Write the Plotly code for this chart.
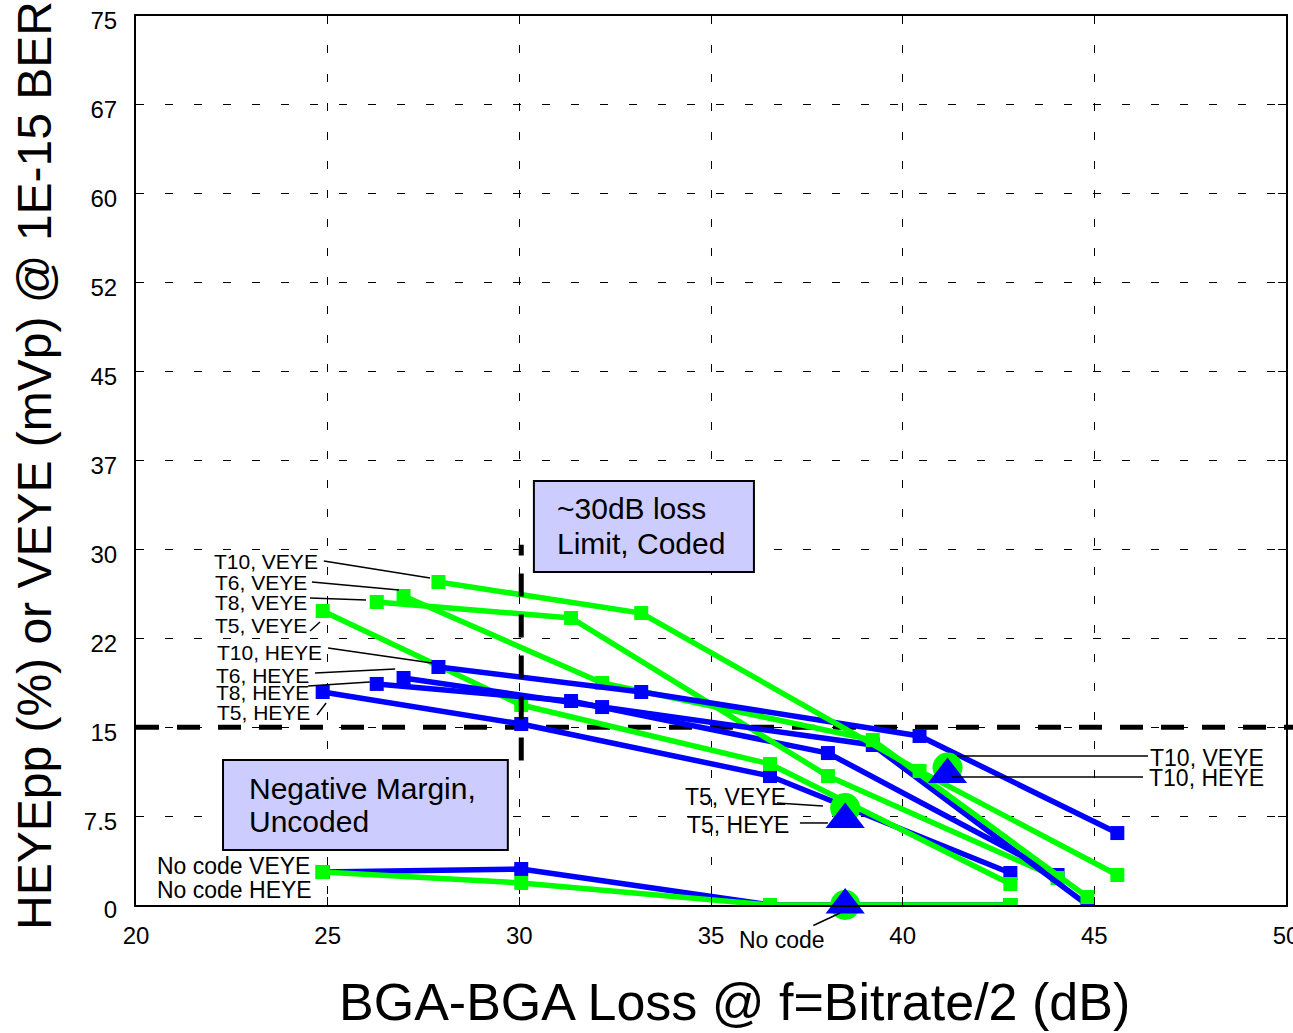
import plotly.graph_objects as go

# ---- measured eye openings vs. BGA-to-BGA channel loss ----
# channel loss (dB) at f = Bitrate/2 for each transmitter setting
loss_t5 = [24.87, 30.05, 36.54, 42.81]
loss_t8 = [26.28, 31.35, 38.05, 44.04]
loss_t6 = [26.98, 32.16, 39.22, 44.82]
loss_t10 = [27.89, 33.18, 40.44, 45.60]
loss_nocode = [24.87, 30.05, 36.54, 42.81]

# vertical eye (mVp) and horizontal eye (% UI pp) at 1E-15 BER
veye_t5 = [24.80, 16.87, 11.90, 1.77]
heye_t5 = [17.97, 15.27, 10.88, 2.70]
veye_t8 = [25.56, 24.21, 10.88, 2.28]
heye_t8 = [18.65, 17.21, 12.82, 2.53]
veye_t6 = [26.07, 18.73, 13.92, 0.67]
heye_t6 = [19.15, 16.70, 13.50, 0.00]
veye_t10 = [27.25, 24.63, 11.31, 2.53]
heye_t10 = [20.08, 17.97, 14.26, 6.07]
veye_nocode = [2.78, 1.86, 0.00, 0.00]
heye_nocode = [2.78, 3.04, 0.00, 0.00]

# loss-limit operating points (T5, T10, uncoded)
limit_loss = [38.50, 41.17, 38.50]
limit_veye = [8.18, 11.60, 0.00]
limit_heye = [7.21, 11.01, 0.00]

# coded 30 dB loss limit and 15 unit eye requirement
loss_limit_db = 30.05
loss_limit_span = [12.2, 30.4]
eye_requirement = 15.0

x_ticks = [20, 25, 30, 35, 40, 45, 50]
y_tickvals = [0, 7.5, 15, 22.5, 30, 37.5, 45, 52.5, 60, 67.5, 75]
y_ticktext = ["0", "7.5", "15", "22", "30", "37", "45", "52", "60", "67", "75"]

GREEN = "#00FF00"
BLUE = "#0000FF"
FONT = "Liberation Sans, Arial, Helvetica, sans-serif"

fig = go.Figure()


def add_series(x, y, color):
    fig.add_trace(go.Scatter(
        x=x, y=y, mode="lines+markers",
        line=dict(color=color, width=5.5),
        marker=dict(symbol="square", size=14, color=color),
        hoverinfo="x+y",
    ))


series = [
    (loss_t5, heye_t5, veye_t5),
    (loss_t8, heye_t8, veye_t8),
    (loss_t6, heye_t6, veye_t6),
    (loss_t10, heye_t10, veye_t10),
]
for loss, heye, veye in series:
    add_series(loss, heye, BLUE)
    add_series(loss, veye, GREEN)

add_series(loss_nocode, heye_nocode, BLUE)
add_series(loss_nocode, veye_nocode, GREEN)

# operating points at the loss limit: VEYE circle behind HEYE triangle
fig.add_trace(go.Scatter(
    x=limit_loss, y=limit_veye, mode="markers",
    marker=dict(symbol="circle", size=30, color=GREEN),
    cliponaxis=False, hoverinfo="x+y",
))
fig.add_trace(go.Scatter(
    x=limit_loss, y=limit_heye, mode="markers",
    marker=dict(symbol="triangle-up", size=34, color=BLUE),
    cliponaxis=False, hoverinfo="x+y",
))

shapes = []
# eye requirement (horizontal, runs past the frame) and coded loss limit
shapes.append(dict(type="line", xref="paper", yref="y", x0=0, x1=1.007,
                   y0=eye_requirement, y1=eye_requirement, layer="below",
                   line=dict(color="black", width=5, dash="23px,18px")))
shapes.append(dict(type="line", xref="x", yref="y",
                   x0=loss_limit_db, x1=loss_limit_db,
                   y0=loss_limit_span[0], y1=loss_limit_span[1], layer="above",
                   line=dict(color="black", width=5, dash="23px,18px")))

# callout boxes
shapes.append(dict(type="rect", xref="x", yref="y", x0=30.38, x1=36.12,
                   y0=28.09, y1=35.77, layer="above", fillcolor="#CCCCFF",
                   line=dict(color="black", width=2)))
shapes.append(dict(type="rect", xref="x", yref="y", x0=22.27, x1=29.70,
                   y0=4.64, y1=12.23, layer="above", fillcolor="#CCCCFF",
                   line=dict(color="black", width=2)))

# leader lines from curve labels to their curves
leaders = [
    (24.90, 29.02, 27.67, 27.59),
    (24.59, 27.25, 26.86, 26.58),
    (24.54, 25.90, 26.00, 25.73),
    (24.54, 23.12, 24.80, 23.88),
    (25.01, 21.68, 27.72, 20.42),
    (24.67, 19.57, 26.76, 19.91),
    (24.49, 18.48, 26.10, 18.81),
    (24.72, 16.03, 24.96, 17.04),
    (41.42, 12.57, 46.40, 12.57),
    (41.29, 10.80, 46.27, 10.80),
    (36.72, 8.61, 37.92, 8.35),
    (37.32, 6.92, 38.05, 6.92),
]
for x0, y0, x1, y1 in leaders:
    shapes.append(dict(type="line", xref="x", yref="y", x0=x0, y0=y0,
                       x1=x1, y1=y1, layer="above",
                       line=dict(color="black", width=1.5)))

annotations = []


def label(text, x, y, size, xanchor):
    annotations.append(dict(text=text, x=x, y=y, xref="x", yref="y",
                            xanchor=xanchor, yanchor="middle", showarrow=False,
                            font=dict(family=FONT, size=size, color="black")))


# left-hand curve labels
label("T10, VEYE", 24.80, 28.95, 21, "right")
label("T6, VEYE", 24.51, 27.22, 21, "right")
label("T8, VEYE", 24.51, 25.56, 21, "right")
label("T5, VEYE", 24.51, 23.62, 21, "right")
label("T10, HEYE", 24.90, 21.30, 21, "right")
label("T6, HEYE", 24.57, 19.40, 21, "right")
label("T8, HEYE", 24.57, 17.89, 21, "right")
label("T5, HEYE", 24.59, 16.20, 21, "right")

# right-hand curve labels
label("T10, VEYE", 46.40, 12.40, 23, "left")
label("T10, HEYE", 46.37, 10.71, 23, "left")
label("T5, VEYE", 34.27, 9.11, 23, "left")
label("T5, HEYE", 34.32, 6.75, 23, "left")

# uncoded curve labels
label("No code VEYE", 20.50, 3.29, 23, "left")
label("No code HEYE", 20.50, 1.27, 23, "left")

# callout text
label("~30dB loss", 30.93, 33.49, 30, "left")
label("Limit, Coded", 30.93, 30.54, 30, "left")
label("Negative Margin,", 22.90, 9.80, 30, "left")
label("Uncoded", 22.90, 7.02, 30, "left")

# uncoded operating-point label with pointer (just below the x axis)
annotations.append(dict(text="No code", x=38.37, y=-0.009, xref="x",
                        yref="paper", ax=-58, ay=27,
                        showarrow=True, arrowhead=0, arrowwidth=1.5,
                        arrowcolor="black", standoff=0,
                        font=dict(family=FONT, size=23, color="black")))

# axis titles
plot_w = 1293 - 136 - 7
plot_h = 1033 - 16 - 128
annotations.append(dict(text="BGA-BGA Loss @ f=Bitrate/2 (dB)",
                        x=(735 - 136) / plot_w, y=(1033 - 128 - 1002) / plot_h,
                        xref="paper", yref="paper", showarrow=False,
                        xanchor="center", yanchor="middle",
                        font=dict(family=FONT, size=52, color="black")))
annotations.append(dict(text="HEYEpp (%) or VEYE (mVp) @ 1E-15 BER",
                        x=(35 - 136) / plot_w, y=(1033 - 128 - 466) / plot_h,
                        xref="paper", yref="paper", showarrow=False,
                        xanchor="center", yanchor="middle", textangle=-90,
                        font=dict(family=FONT, size=48, color="black")))

fig.update_layout(
    width=1293, height=1033,
    margin=dict(l=136, r=7, t=16, b=128, autoexpand=False),
    plot_bgcolor="white", paper_bgcolor="white",
    showlegend=False,
    font=dict(family=FONT, color="black"),
    shapes=shapes,
    annotations=annotations,
)

axis_common = dict(
    showgrid=True, gridcolor="black", gridwidth=1, griddash="8px,21px",
    showline=True, linecolor="black", linewidth=2, mirror="ticks",
    ticks="inside", ticklen=8, tickcolor="black", tickwidth=1,
    zeroline=False, ticklabeloverflow="allow", automargin=False,
    tickfont=dict(family=FONT, size=24, color="black"),
)
fig.update_xaxes(range=[20, 50], tickvals=x_ticks, ticklabelstandoff=8,
                 **axis_common)
fig.update_yaxes(range=[0, 75], tickvals=y_tickvals, ticktext=y_ticktext,
                 ticklabelstandoff=12, ticklabelshift=5, **axis_common)

fig.write_html("out.html")
